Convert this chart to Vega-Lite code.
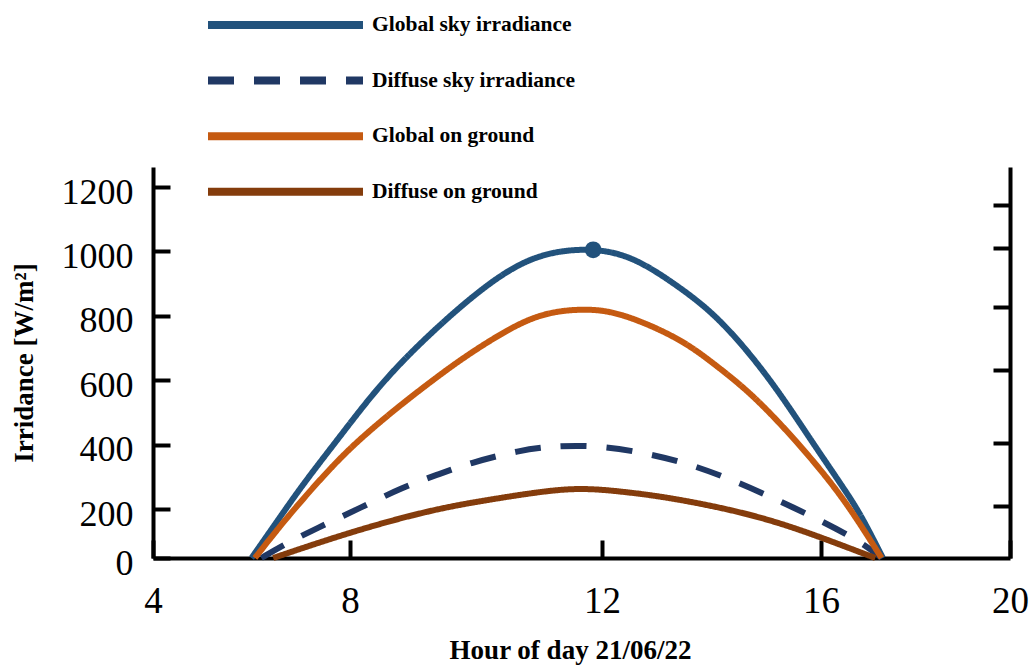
{
  "$schema": "https://vega.github.io/schema/vega-lite/v6.json",
  "width": 857,
  "height": 391,
  "autosize": {"type": "none"},
  "padding": {"left": 153, "top": 167, "right": 19, "bottom": 113},
  "background": "white",
  "config": {
    "view": {"stroke": null},
    "axis": {
      "grid": false,
      "domainColor": "black",
      "domainWidth": 4,
      "tickColor": "black",
      "tickWidth": 4,
      "labelFont": "Liberation Serif",
      "labelColor": "black",
      "titleFont": "Liberation Serif",
      "titleColor": "black",
      "titleFontWeight": "bold",
      "labelOverlap": false,
      "labelFlush": false
    }
  },
  "datasets": {
    "curves": [
      {"series": "Global sky irradiance", "hour": 6.0, "irr": 0},
      {"series": "Global sky irradiance", "hour": 6.58, "irr": 167},
      {"series": "Global sky irradiance", "hour": 7.05, "irr": 278},
      {"series": "Global sky irradiance", "hour": 7.74, "irr": 414},
      {"series": "Global sky irradiance", "hour": 8.32, "irr": 548},
      {"series": "Global sky irradiance", "hour": 8.84, "irr": 663},
      {"series": "Global sky irradiance", "hour": 9.54, "irr": 793},
      {"series": "Global sky irradiance", "hour": 10.17, "irr": 896},
      {"series": "Global sky irradiance", "hour": 10.7, "irr": 964},
      {"series": "Global sky irradiance", "hour": 11.22, "irr": 1000},
      {"series": "Global sky irradiance", "hour": 11.86, "irr": 1010},
      {"series": "Global sky irradiance", "hour": 12.57, "irr": 985},
      {"series": "Global sky irradiance", "hour": 13.42, "irr": 889},
      {"series": "Global sky irradiance", "hour": 14.03, "irr": 809},
      {"series": "Global sky irradiance", "hour": 14.65, "irr": 694},
      {"series": "Global sky irradiance", "hour": 15.25, "irr": 560},
      {"series": "Global sky irradiance", "hour": 15.85, "irr": 405},
      {"series": "Global sky irradiance", "hour": 16.55, "irr": 250},
      {"series": "Global sky irradiance", "hour": 16.87, "irr": 167},
      {"series": "Global sky irradiance", "hour": 17.31, "irr": 0},
      {"series": "Diffuse sky irradiance", "hour": 6.2, "irr": 0},
      {"series": "Diffuse sky irradiance", "hour": 6.64, "irr": 53},
      {"series": "Diffuse sky irradiance", "hour": 7.33, "irr": 122},
      {"series": "Diffuse sky irradiance", "hour": 8.16, "irr": 203},
      {"series": "Diffuse sky irradiance", "hour": 8.84, "irr": 268},
      {"series": "Diffuse sky irradiance", "hour": 9.38, "irr": 306},
      {"series": "Diffuse sky irradiance", "hour": 9.9, "irr": 343},
      {"series": "Diffuse sky irradiance", "hour": 10.7, "irr": 383},
      {"series": "Diffuse sky irradiance", "hour": 11.22, "irr": 395},
      {"series": "Diffuse sky irradiance", "hour": 11.86, "irr": 398},
      {"series": "Diffuse sky irradiance", "hour": 12.69, "irr": 378},
      {"series": "Diffuse sky irradiance", "hour": 13.55, "irr": 343},
      {"series": "Diffuse sky irradiance", "hour": 14.39, "irr": 290},
      {"series": "Diffuse sky irradiance", "hour": 15.2, "irr": 228},
      {"series": "Diffuse sky irradiance", "hour": 15.98, "irr": 155},
      {"series": "Diffuse sky irradiance", "hour": 16.89, "irr": 61},
      {"series": "Diffuse sky irradiance", "hour": 17.28, "irr": 0},
      {"series": "Global on ground", "hour": 6.07, "irr": 0},
      {"series": "Global on ground", "hour": 6.72, "irr": 167},
      {"series": "Global on ground", "hour": 7.74, "irr": 352},
      {"series": "Global on ground", "hour": 8.32, "irr": 445},
      {"series": "Global on ground", "hour": 8.84, "irr": 529},
      {"series": "Global on ground", "hour": 9.38, "irr": 610},
      {"series": "Global on ground", "hour": 9.9, "irr": 684},
      {"series": "Global on ground", "hour": 10.7, "irr": 781},
      {"series": "Global on ground", "hour": 11.22, "irr": 814},
      {"series": "Global on ground", "hour": 11.76, "irr": 822},
      {"series": "Global on ground", "hour": 12.33, "irr": 811},
      {"series": "Global on ground", "hour": 13.42, "irr": 731},
      {"series": "Global on ground", "hour": 14.03, "irr": 653},
      {"series": "Global on ground", "hour": 14.65, "irr": 570},
      {"series": "Global on ground", "hour": 15.25, "irr": 467},
      {"series": "Global on ground", "hour": 15.85, "irr": 352},
      {"series": "Global on ground", "hour": 16.55, "irr": 219},
      {"series": "Global on ground", "hour": 17.28, "irr": 0},
      {"series": "Diffuse on ground", "hour": 6.44, "irr": 0},
      {"series": "Diffuse on ground", "hour": 8.0, "irr": 106},
      {"series": "Diffuse on ground", "hour": 9.27, "irr": 196},
      {"series": "Diffuse on ground", "hour": 10.17, "irr": 228},
      {"series": "Diffuse on ground", "hour": 11.22, "irr": 260},
      {"series": "Diffuse on ground", "hour": 11.76, "irr": 264},
      {"series": "Diffuse on ground", "hour": 12.33, "irr": 255},
      {"series": "Diffuse on ground", "hour": 13.19, "irr": 237},
      {"series": "Diffuse on ground", "hour": 14.39, "irr": 196},
      {"series": "Diffuse on ground", "hour": 15.25, "irr": 143},
      {"series": "Diffuse on ground", "hour": 15.98, "irr": 86},
      {"series": "Diffuse on ground", "hour": 17.15, "irr": 0}
    ],
    "peak": [
      {"series": "Global sky irradiance", "hour": 11.86, "irr": 1005}
    ]
  },
  "layer": [
    {
      "data": {"name": "curves"},
      "mark": {"type": "line", "interpolate": "basis", "strokeWidth": 6, "strokeCap": "butt"},
      "encoding": {
        "x": {
          "field": "hour", "type": "quantitative",
          "scale": {"domain": [4, 8, 12, 16, 20], "range": [0, 197, 449, 668, 857], "nice": false, "zero": false},
          "axis": {
            "title": "Hour of day 21/06/22",
            "values": [4, 8, 12, 16, 20],
            "format": "d",
            "tickSize": -18,
            "labelFontSize": 37,
            "labelPadding": 43,
            "titleFontSize": 27,
            "titlePadding": 18,
            "titleX": 417
          }
        },
        "y": {
          "field": "irr", "type": "quantitative",
          "scale": {"domain": [0, 200, 1200, 1262], "range": [391, 342, 20, 0], "nice": false, "zero": false},
          "axis": {
            "orient": "left",
            "title": "Irridance [W/m²]",
            "values": [0, 200, 400, 600, 800, 1000, 1200],
            "format": "d",
            "tickSize": -17,
            "labelFontSize": 36,
            "labelPadding": 37,
            "labelOffset": 5,
            "titleFontSize": 27,
            "titlePadding": 23
          }
        },
        "color": {
          "field": "series", "type": "nominal",
          "scale": {
            "domain": ["Global sky irradiance", "Diffuse sky irradiance", "Global on ground", "Diffuse on ground"],
            "range": ["#22527c", "#203864", "#c55a11", "#843c0c"]
          },
          "legend": {
            "orient": "none", "legendX": 51, "legendY": -162, "title": null,
            "symbolType": "stroke", "symbolSize": 24025, "symbolStrokeWidth": 8,
            "clipHeight": 40, "rowPadding": 15.6, "padding": 0,
            "labelFont": "Liberation Serif", "labelFontWeight": "bold", "labelFontSize": 21.5,
            "labelColor": "black", "labelOffset": 5, "labelLimit": 0, "symbolOffset": 0
          }
        },
        "strokeDash": {
          "field": "series", "type": "nominal",
          "scale": {
            "domain": ["Global sky irradiance", "Diffuse sky irradiance", "Global on ground", "Diffuse on ground"],
            "range": [[1, 0], [26, 20], [1, 0], [1, 0]]
          },
          "legend": {
            "orient": "none", "legendX": 51, "legendY": -162, "title": null,
            "symbolType": "stroke", "symbolSize": 24025, "symbolStrokeWidth": 8,
            "clipHeight": 40, "rowPadding": 15.6, "padding": 0,
            "labelFont": "Liberation Serif", "labelFontWeight": "bold", "labelFontSize": 21.5,
            "labelColor": "black", "labelOffset": 5, "labelLimit": 0, "symbolOffset": 0
          }
        }
      }
    },
    {
      "data": {"name": "peak"},
      "mark": {"type": "point", "filled": true, "size": 280, "opacity": 1, "color": "#22527c"},
      "encoding": {
        "x": {
          "field": "hour", "type": "quantitative",
          "scale": {"domain": [4, 8, 12, 16, 20], "range": [0, 197, 449, 668, 857], "nice": false, "zero": false}
        },
        "y": {
          "field": "irr", "type": "quantitative",
          "scale": {"domain": [0, 200, 1200, 1262], "range": [391, 342, 20, 0], "nice": false, "zero": false},
          "axis": {
            "orient": "right",
            "title": null,
            "values": [209, 405, 632, 827, 1010, 1144],
            "labels": false,
            "tickSize": -17
          }
        }
      }
    }
  ],
  "resolve": {"axis": {"y": "independent"}}
}
